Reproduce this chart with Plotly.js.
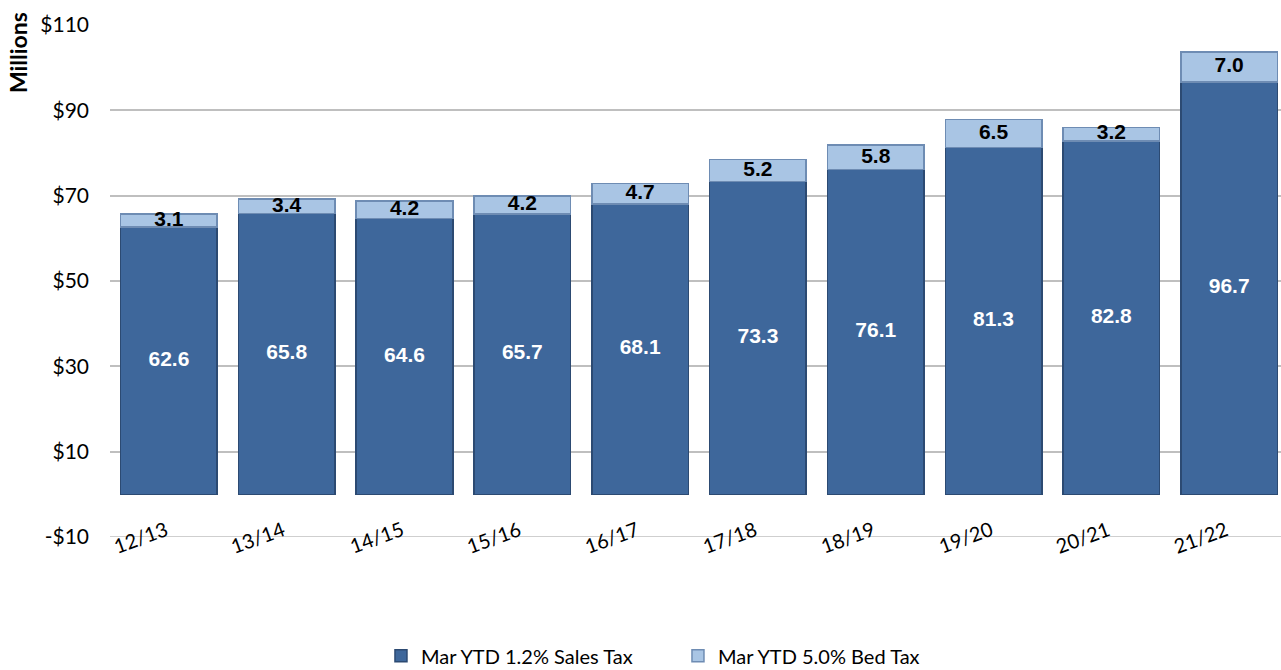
<!DOCTYPE html>
<html>
<head>
<meta charset="utf-8">
<script src="https://cdn.plot.ly/plotly-3.0.1.min.js"></script>
<style>html,body{margin:0;padding:0;background:#fff;}#chart{width:1281px;height:670px;}</style>
</head>
<body>
<div id="chart"></div>
<script>
const categories = ['12/13','13/14','14/15','15/16','16/17','17/18','18/19','19/20','20/21','21/22'];
const salesTax = [62.6, 65.8, 64.6, 65.7, 68.1, 73.3, 76.1, 81.3, 82.8, 96.7];
const bedTax = [3.1, 3.4, 4.2, 4.2, 4.7, 5.2, 5.8, 6.5, 3.2, 7.0];
const yTickVals = [-10, 10, 30, 50, 70, 90, 110];
const yTickText = ['-$10', '$10', '$30', '$50', '$70', '$90', '$110'];
const seriesNames = ['Mar YTD 1.2% Sales Tax', 'Mar YTD 5.0% Bed Tax'];

const labelFont = "'Liberation Sans Narrow', 'Arial Narrow', 'Liberation Sans', Arial, sans-serif";
const bodyFont = "Lato, 'Open Sans', sans-serif";

const traces = [
  {
    type: 'bar', x: categories, y: salesTax, name: seriesNames[0],
    marker: {color: '#3E679B', line: {color: '#2C4A72', width: 1.5}},
    width: 0.82, hoverinfo: 'y'
  },
  {
    type: 'bar', x: categories, y: bedTax, name: seriesNames[1],
    marker: {color: '#A9C5E4', line: {color: '#6E8CB3', width: 1.5}},
    width: 0.82, hoverinfo: 'y'
  },
  {
    type: 'scatter', mode: 'text', x: categories, y: salesTax.map(v => v / 2),
    text: salesTax.map(v => v.toFixed(1)), showlegend: false, hoverinfo: 'skip',
    textfont: {family: labelFont, size: 21, color: '#FFFFFF', weight: 'bold'}
  },
  {
    type: 'scatter', mode: 'text', x: categories, y: salesTax.map((v, i) => v + bedTax[i] / 2),
    text: bedTax.map(v => v.toFixed(1)), showlegend: false, hoverinfo: 'skip',
    textfont: {family: labelFont, size: 21, color: '#000000', weight: 'bold'}
  }
];

const xAnnotations = categories.map(c => ({
  x: c, y: -10, xref: 'x', yref: 'y', text: c, showarrow: false,
  textangle: -20, xshift: 4, yshift: 23, xanchor: 'right', yanchor: 'top',
  font: {family: bodyFont, size: 20, color: '#000000'}
}));

const layout = {
  width: 1281, height: 670,
  margin: {l: 110, r: 0, t: 25, b: 133, autoexpand: false},
  paper_bgcolor: '#FFFFFF', plot_bgcolor: '#FFFFFF',
  barmode: 'stack',
  showlegend: true,
  legend: {
    orientation: 'h', x: 0.2314, xanchor: 'left', y: -0.232, yanchor: 'middle',
    font: {family: bodyFont, size: 20, color: '#000000'},
    entrywidth: 252, entrywidthmode: 'pixels', itemwidth: 30, traceorder: 'normal'
  },
  xaxis: {
    type: 'category', range: [-0.5, 9.44], showticklabels: false,
    showgrid: false, zeroline: false, showline: false, ticks: ''
  },
  yaxis: {
    range: [-10, 110], tickvals: yTickVals, ticktext: yTickText,
    showgrid: true, gridcolor: '#BFBFBF', gridwidth: 1.5, zeroline: false,
    showline: false, ticks: '', ticklabelstandoff: 20,
    tickfont: {family: bodyFont, size: 21, color: '#000000'}
  },
  shapes: [{
    type: 'line', xref: 'paper', yref: 'y', x0: 0, x1: 1, y0: -10, y1: -10,
    line: {color: '#BFBFBF', width: 1.5}, layer: 'below'
  }],
  annotations: xAnnotations.concat([{
    text: 'Millions', xref: 'paper', yref: 'paper', x: -0.0786, y: 0.947,
    showarrow: false, textangle: -90, xanchor: 'center', yanchor: 'middle',
    font: {family: bodyFont, size: 23, color: '#000000', weight: 'bold'}
  }]),
  hovermode: 'closest'
};

Plotly.newPlot('chart', traces, layout, {displayModeBar: false});
</script>
</body>
</html>
